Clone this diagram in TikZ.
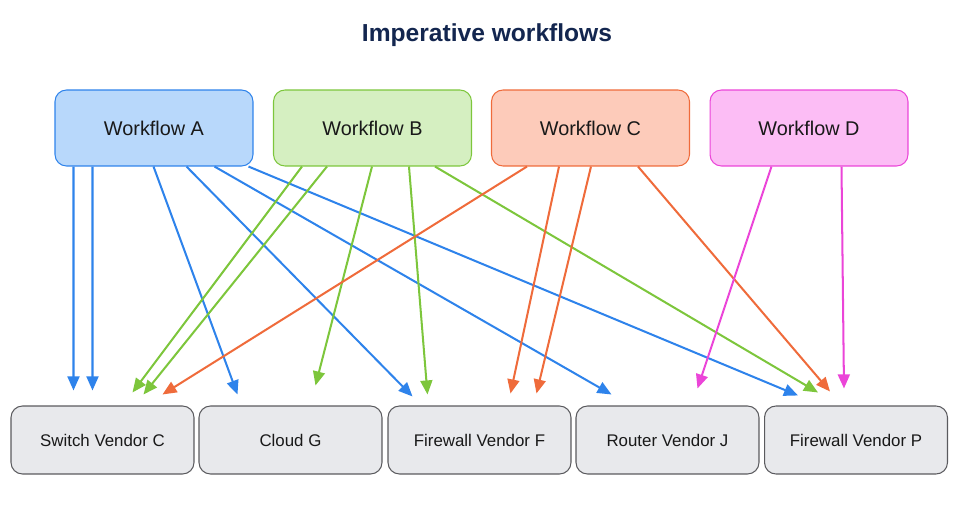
\documentclass[tikz,border=0pt]{standalone}
\usepackage{fontspec}
\setmainfont{Liberation Sans}
\usepackage{xcolor}
\usetikzlibrary{shapes,arrows.meta,positioning,calc}

\definecolor{titleCol}{HTML}{13264F}
\definecolor{aFill}{HTML}{B8D8FB}
\definecolor{aLine}{HTML}{2E83EB}
\definecolor{bFill}{HTML}{D5EFC1}
\definecolor{bLine}{HTML}{7DC63C}
\definecolor{cFill}{HTML}{FDCBBA}
\definecolor{cLine}{HTML}{EF6B3B}
\definecolor{dFill}{HTML}{FCBDF5}
\definecolor{dLine}{HTML}{EB45D8}
\definecolor{vFill}{HTML}{E8E9EC}
\definecolor{vLine}{HTML}{5A5A5E}

\begin{document}
\begin{tikzpicture}[x=0.02cm, y=-0.02cm, >={Triangle[length=8pt,width=6.8pt]},
  wf/.style={draw, rounded corners=6.5pt, minimum width=3.96cm, minimum height=1.52cm,
    line width=0.6pt, text=black!90, font=\fontsize{11.3}{13}\selectfont},
  vendor/.style={draw=vLine, fill=vFill, rounded corners=6.5pt, minimum width=3.66cm,
    minimum height=1.36cm, line width=0.6pt, text=black!90, font=\fontsize{9.6}{12}\selectfont},
  link/.style={->, line width=1.15pt}]
\useasboundingbox (0,0) rectangle (960,516);

\node[text=titleCol, font=\fontsize{14}{17}\selectfont\bfseries] (title) at (487,35) {Imperative workflows};

% workflows
\node[wf, draw=aLine, fill=aFill] (wfA) at (154,128) {Workflow A};
\node[wf, draw=bLine, fill=bFill] (wfB) at (372.5,128) {Workflow B};
\node[wf, draw=cLine, fill=cFill] (wfC) at (590.5,128) {Workflow C};
\node[wf, draw=dLine, fill=dFill] (wfD) at (809,128) {Workflow D};

% vendors
\node[vendor] (swC) at (102.5,440) {Switch Vendor C};
\node[vendor] (cloudG) at (290.5,440) {Cloud G};
\node[vendor] (fwF) at (479.5,440) {Firewall Vendor F};
\node[vendor] (rtJ) at (667.5,440) {Router Vendor J};
\node[vendor] (fwP) at (856,440) {Firewall Vendor P};

% workflow A
\draw[link, aLine] ($(wfA.south west)+(19,0)$) -- ($(swC.north west)+(63,-15)$);
\draw[link, aLine] ($(wfA.south west)+(38,0)$) -- ($(swC.north west)+(82,-15)$);
\draw[link, aLine] ($(wfA.south west)+(99,0)$) -- ($(cloudG.north west)+(39,-11)$);
\draw[link, aLine] ($(wfA.south west)+(132,0)$) -- ($(fwF.north west)+(25,-9)$);
\draw[link, aLine] ($(wfA.south west)+(160,0)$) -- ($(rtJ.north west)+(36,-11)$);
\draw[link, aLine] ($(wfA.south west)+(194,0)$) -- ($(fwP.north west)+(34,-10)$);

% workflow B
\draw[link, bLine] ($(wfB.south west)+(29,0)$) -- ($(swC.north west)+(122,-13)$);
\draw[link, bLine] ($(wfB.south west)+(54,0)$) -- ($(swC.north west)+(133,-11)$);
\draw[link, bLine] ($(wfB.south west)+(99,0)$) -- ($(cloudG.north west)+(117,-20)$);
\draw[link, bLine] ($(wfB.south west)+(136,0)$) -- ($(fwF.north west)+(40,-11)$);
\draw[link, bLine] ($(wfB.south west)+(162,0)$) -- ($(fwP.north west)+(54,-13)$);

% workflow C
\draw[link, cLine] ($(wfC.south west)+(36,0)$) -- ($(swC.north west)+(152,-11)$);
\draw[link, cLine] ($(wfC.south west)+(68,0)$) -- ($(fwF.north west)+(123,-12)$);
\draw[link, cLine] ($(wfC.south west)+(100,0)$) -- ($(fwF.north west)+(149,-12)$);
\draw[link, cLine] ($(wfC.south west)+(147,0)$) -- ($(fwP.north west)+(66,-14)$);

% workflow D
\draw[link, dLine] ($(wfD.south west)+(62,0)$) -- ($(rtJ.north west)+(122,-17)$);
\draw[link, dLine] ($(wfD.south west)+(132,0)$) -- ($(fwP.north west)+(80,-17)$);

\end{tikzpicture}
\end{document}
